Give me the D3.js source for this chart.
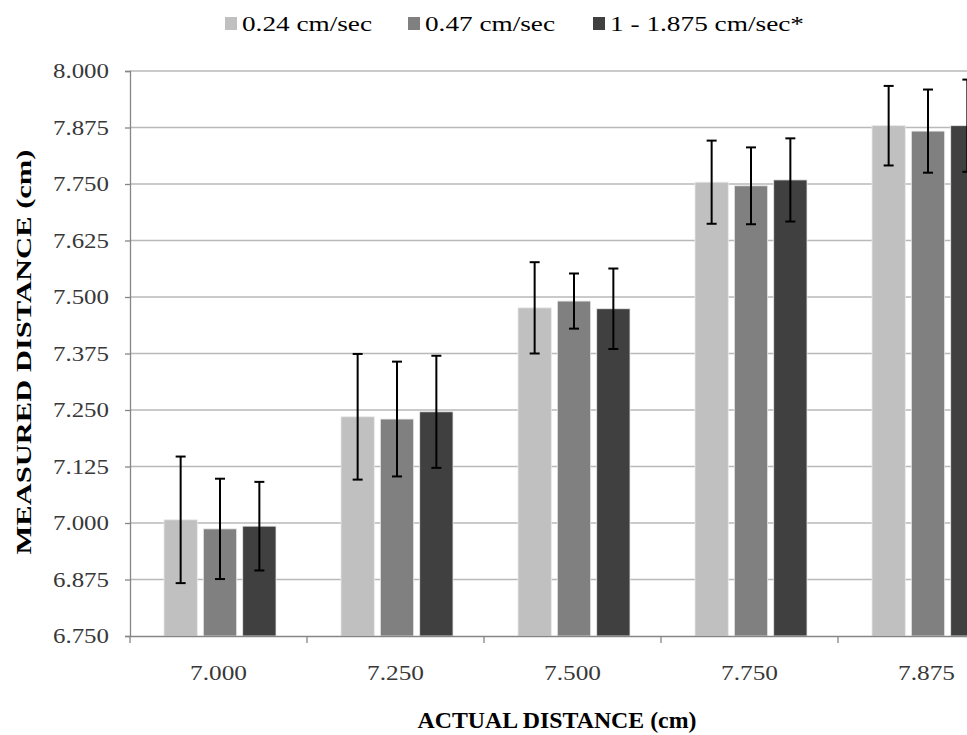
<!DOCTYPE html>
<html>
<head>
<meta charset="utf-8">
<script src="https://cdn.jsdelivr.net/npm/d3@7"></script>
<style>
  html, body { margin: 0; padding: 0; background: #fff; }
  svg { display: block; }
  svg text { font-family: "Liberation Serif", "Times New Roman", Times, "DejaVu Serif", serif; }
</style>
</head>
<body>
<svg id="chart" width="967" height="735"></svg>
<script>
// Actual distances (cm) along the x axis
const categories = ["7.000", "7.250", "7.500", "7.750", "7.875"];
// Probe speeds
const seriesNames = ["0.24 cm/sec", "0.47 cm/sec", "1 - 1.875 cm/sec*"];
const seriesColors = ["#c0c0c0", "#808080", "#404040"];
// Mean measured distance (cm) per speed
const speed024 = [7.007, 7.235, 7.476, 7.754, 7.879];
const speed047 = [6.987, 7.230, 7.491, 7.746, 7.867];
const speedFast = [6.993, 7.246, 7.474, 7.759, 7.879];
// Error bar half-widths (cm)
const err024 = [0.140, 0.139, 0.101, 0.092, 0.088];
const err047 = [0.111, 0.127, 0.061, 0.085, 0.092];
const errFast = [0.098, 0.124, 0.089, 0.092, 0.102];
// Y axis ticks
const yTicks = [6.750, 6.875, 7.000, 7.125, 7.250, 7.375, 7.500, 7.625, 7.750, 7.875, 8.000];

const means = [speed024, speed047, speedFast];
const errs = [err024, err047, errFast];

const svg = d3.select("#chart");

// Fit a text run to a fixed width
function fitWidth(sel, w) {
  sel.attr("textLength", w).attr("lengthAdjust", "spacingAndGlyphs");
}

const plotLeft = 130, plotTop = 71, plotBottom = 636, band = 177;

const x = d3.scaleBand()
  .domain(categories)
  .range([plotLeft, plotLeft + band * categories.length])
  .paddingInner(0).paddingOuter(0);

const xInner = d3.scaleBand()
  .domain(d3.range(seriesNames.length))
  .range([34, 146])
  .paddingInner(0.154).paddingOuter(0);

const y = d3.scaleLinear().domain([6.75, 8.0]).range([plotBottom, plotTop]);

// Horizontal gridlines
svg.append("g")
  .selectAll("line")
  .data(yTicks.filter(t => t > 6.75))
  .join("line")
  .attr("x1", plotLeft).attr("x2", 967)
  .attr("y1", d => y(d)).attr("y2", d => y(d))
  .attr("stroke", "#b9b9b9").attr("stroke-width", 1.3);

// Bars
const rows = [];
categories.forEach((c, i) => {
  means.forEach((m, s) => rows.push({ cat: c, s, v: m[i], e: errs[s][i] }));
});

svg.append("g")
  .selectAll("rect")
  .data(rows)
  .join("rect")
  .attr("x", d => x(d.cat) + xInner(d.s))
  .attr("width", xInner.bandwidth())
  .attr("y", d => y(d.v))
  .attr("height", d => plotBottom - y(d.v))
  .attr("fill", d => seriesColors[d.s])
  .attr("stroke", "#e8e8e8").attr("stroke-width", 0.8);

// Error bars
const eb = svg.append("g").attr("stroke", "#000").attr("stroke-width", 2);
rows.forEach(d => {
  const cx = x(d.cat) + xInner(d.s) + xInner.bandwidth() / 2;
  const yTop = y(d.v + d.e), yBot = y(d.v - d.e);
  eb.append("line").attr("x1", cx).attr("x2", cx).attr("y1", yTop).attr("y2", yBot);
  eb.append("line").attr("x1", cx - 5).attr("x2", cx + 5).attr("y1", yTop).attr("y2", yTop);
  eb.append("line").attr("x1", cx - 5).attr("x2", cx + 5).attr("y1", yBot).attr("y2", yBot);
});

// Y axis
const yAxis = svg.append("g")
  .attr("transform", `translate(${plotLeft},0)`)
  .call(d3.axisLeft(y).tickValues(yTicks).tickFormat(d3.format(".3f")).tickSize(5).tickPadding(16));
yAxis.attr("font-family", null);
yAxis.select(".domain").attr("stroke", "#868686").attr("stroke-width", 1.3);
yAxis.selectAll(".tick line").attr("stroke", "#868686").attr("stroke-width", 1.3);
yAxis.selectAll("text")
  .attr("font-size", 21).attr("fill", "#383838")
  .call(fitWidth, 56);

// X axis
const xAxis = svg.append("g")
  .attr("transform", `translate(0,${plotBottom})`)
  .call(d3.axisBottom(x).tickSize(0));
xAxis.attr("font-family", null);
xAxis.select(".domain").attr("stroke", "#868686").attr("stroke-width", 1.3);
xAxis.selectAll("text")
  .attr("y", 44).attr("dy", null)
  .attr("font-size", 21).attr("fill", "#383838")
  .call(fitWidth, 57);
// Category boundary ticks
xAxis.append("g")
  .selectAll("line")
  .data(d3.range(categories.length + 1))
  .join("line")
  .attr("x1", i => plotLeft + i * band).attr("x2", i => plotLeft + i * band)
  .attr("y1", 0).attr("y2", 7)
  .attr("stroke", "#868686").attr("stroke-width", 1.3);

// Axis titles
svg.append("text")
  .attr("transform", "translate(31,352) rotate(-90)")
  .attr("text-anchor", "middle")
  .attr("font-weight", "bold").attr("font-size", 22)
  .attr("fill", "#000")
  .text("MEASURED DISTANCE (cm)")
  .call(fitWidth, 405);

svg.append("text")
  .attr("x", 557).attr("y", 728)
  .attr("text-anchor", "middle")
  .attr("font-weight", "bold").attr("font-size", 23)
  .attr("fill", "#000")
  .text("ACTUAL DISTANCE (cm)")
  .call(fitWidth, 279);

// Legend
const legendX = [225, 408, 593];
const legendW = [130, 130, 194];
const legend = svg.append("g");
seriesNames.forEach((name, i) => {
  const g = legend.append("g").attr("transform", `translate(${legendX[i]},0)`);
  g.append("rect").attr("x", 0).attr("y", 17).attr("width", 12).attr("height", 13)
    .attr("fill", seriesColors[i]);
  g.append("text").attr("x", 17).attr("y", 31)
    .attr("font-size", 22).attr("fill", "#000")
    .text(name)
    .call(fitWidth, legendW[i]);
});
</script>
</body>
</html>
